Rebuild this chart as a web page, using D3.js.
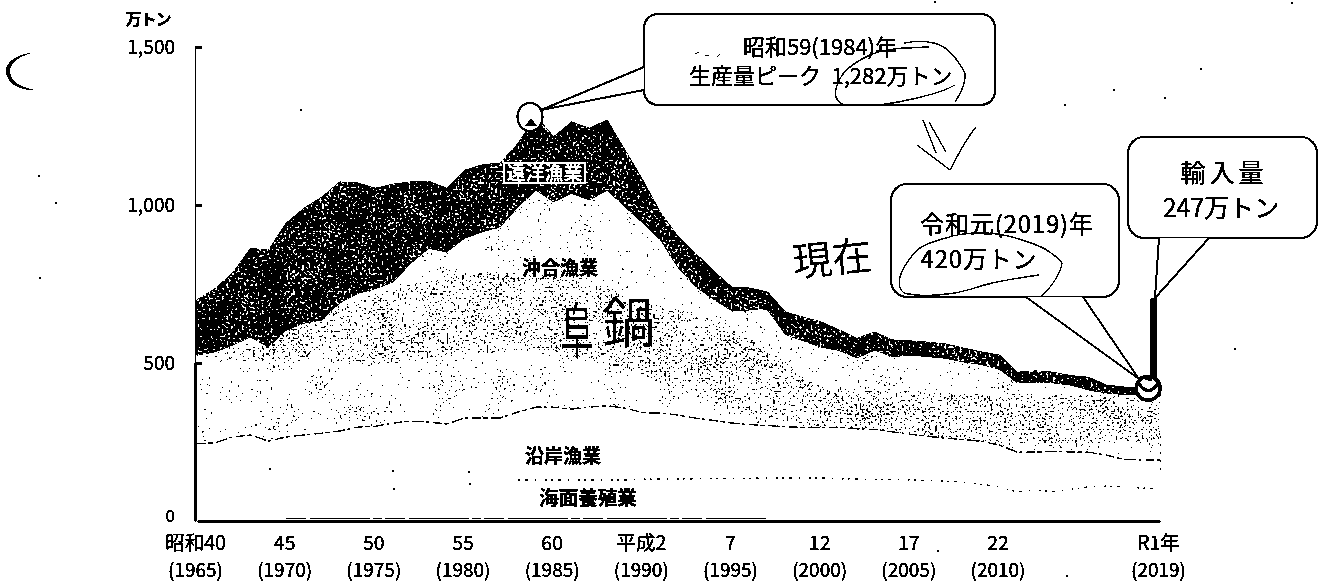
<!DOCTYPE html>
<html>
<head>
<meta charset="utf-8">
<style>
html,body{margin:0;padding:0;background:#fff;overflow:hidden}
text{font-family:"Noto Sans CJK JP","Noto Sans",sans-serif;fill:#000;stroke:#000;stroke-width:.4}
</style>
<script src="https://cdn.jsdelivr.net/npm/d3@7"></script>
</head>
<body>
<svg id="chart" width="1319" height="585"></svg>
<script>
// values, 万トン, one per year 1965-2019
var years = d3.range(1965, 2020);
var totalTop = [700,735,785,863,857, 943,990,1025,1073,1070, 1053,1066,1073,1075,1053,
    1110,1127,1133,1195,1282, 1216,1263,1243,1269,1174, 1079,975,899,845,790,
    740,737,725,661,645, 630,605,578,598,573, 570,566,560,547,535,
    525,471,475,471,460, 455,430,424,420,420];
var offshoreTop = [525,535,557,582,551, 604,626,636,690,720, 735,757,816,863,851,
    895,915,931,994,1047, 1010,1037,1016,1047,994, 943,889,800,740,700,
    665,668,668,590,570, 550,540,516,541,520, 525,520,515,503,495,
    480,437,437,437,430, 415,405,400,400,395];
var coastalTop = [244,247,266,272,253, 266,272,278,285,297, 300,310,316,313,307,
    326,326,326,345,360, 360,354,360,365,357, 343,342,335,325,318,
    310,305,302,298,296, 296,296,292,290,282, 275,268,262,258,252,
    240,218,218,221,218, 218,208,195,193,193];
// 海面養殖業 only shows from 1983 on
var aquaYears = d3.range(1983, 2020);
var aquaTop = [130,130,130,130,130,130,130, 132,133,133,134,135,
    135,135,136,136,136, 136,134,133,132,131, 130,128,126,123,116,
    108,92,98,93,100, 108,110,108,104,101];
// where the scan stipple gets thick inside 沖合漁業
var bandYears = [1965,1970,1975,1980,1985,1990,1995,2000,2005,2010,2015,2019];
var bandTop = [520,600,720,790,780,700,620,420,410,400,400,395];
var bandBottom = [505,510,490,530,540,460,350,290,275,240,235,250];

var yTicks = [0, 500, 1000, 1500];
var xTickYears = [1965,1970,1975,1980,1985,1990,1995,2000,2005,2010,2019];
var xTickTop = ["昭和40","45","50","55","60","平成2","7","12","17","22","R1年"];
var xTickBottom = ["(1965)","(1970)","(1975)","(1980)","(1985)","(1990)","(1995)","(2000)","(2005)","(2010)","(2019)"];
var scanDots = [[300,109],[38,175],[55,202],[39,277],[1200,68],[1113,89],[1164,97],[1064,104],
    [934,1],[1291,2],[1234,348],[937,550],[1066,575],[269,468],[392,470],[393,488],[468,471],[469,483]];

var svg = d3.select("#chart");
var defs = svg.append("defs");

var x = d3.scaleLinear().domain([1965, 2019]).range([197, 1160]);
var y = d3.scaleLinear().domain([0, 1500]).range([521, 47]);

// noise thresholded to single pixels, with a little slow noise so the grain is uneven
function speckFilter(id, seed, cut, white) {
    var c = white ? 1 : 0;
    var toAlpha = "0 0 0 0 0  0 0 0 0 0  0 0 0 0 0  1 0 0 0 0";
    var f = defs.append("filter").attr("id", id)
        .attr("filterUnits", "userSpaceOnUse")
        .attr("x", 0).attr("y", 0).attr("width", 1319).attr("height", 585)
        .attr("color-interpolation-filters", "sRGB");
    f.append("feTurbulence").attr("type", "fractalNoise")
        .attr("baseFrequency", 0.45).attr("numOctaves", 1).attr("seed", seed).attr("result", "fine");
    f.append("feColorMatrix").attr("in", "fine").attr("type", "matrix").attr("values", toAlpha).attr("result", "a");
    f.append("feTurbulence").attr("type", "fractalNoise")
        .attr("baseFrequency", 0.035).attr("numOctaves", 2).attr("seed", seed + 20).attr("result", "slow");
    f.append("feColorMatrix").attr("in", "slow").attr("type", "matrix").attr("values", toAlpha).attr("result", "b");
    f.append("feComposite").attr("in", "a").attr("in2", "b").attr("operator", "arithmetic")
        .attr("k1", 0).attr("k2", 0.8).attr("k3", 0.2).attr("k4", 0).attr("result", "sum");
    f.append("feColorMatrix").attr("in", "sum").attr("type", "matrix")
        .attr("values", "0 0 0 0 " + c + "  0 0 0 0 " + c + "  0 0 0 0 " + c + "  0 0 0 60 " + (-60 * cut));
}
speckFilter("whiteSpecks", 3, 0.6, true);
speckFilter("blackSparse", 7, 0.665, false);
speckFilter("blackDense", 11, 0.61, false);

var bilevel = defs.append("filter").attr("id", "bilevel")
    .attr("filterUnits", "userSpaceOnUse")
    .attr("x", 0).attr("y", 0).attr("width", 1319).attr("height", 585)
    .attr("color-interpolation-filters", "sRGB");
var ct = bilevel.append("feComponentTransfer");
["feFuncR", "feFuncG", "feFuncB"].forEach(function (n) {
    ct.append(n).attr("type", "discrete").attr("tableValues", "0 1");
});
var blur = defs.append("filter").attr("id", "soft");
blur.append("feGaussianBlur").attr("stdDeviation", 7);

var areaBetween = function (lo, hi) {
    return d3.area()
        .x(function (d, i) { return x(years[i]); })
        .y0(function (d, i) { return y(lo[i]); })
        .y1(function (d, i) { return y(hi[i]); })(years);
};

defs.append("clipPath").attr("id", "clipDistant").append("path").attr("d", areaBetween(offshoreTop, totalTop));
defs.append("clipPath").attr("id", "clipOffshore").append("path").attr("d", areaBetween(coastalTop, offshoreTop));

var bandMask = defs.append("mask").attr("id", "bandMask")
    .attr("maskUnits", "userSpaceOnUse").attr("x", 0).attr("y", 0).attr("width", 1319).attr("height", 585);
bandMask.append("path").attr("fill", "#fff").attr("filter", "url(#soft)")
    .attr("d", d3.area()
        .x(function (d) { return x(d); })
        .y0(function (d, i) { return y(bandBottom[i]); })
        .y1(function (d, i) { return y(bandTop[i]); })(bandYears));

var page = svg.append("g").attr("filter", "url(#bilevel)");
page.append("rect").attr("width", 1319).attr("height", 585).attr("fill", "#fff");

// 遠洋漁業 band, black with white grain
page.append("path").attr("d", areaBetween(offshoreTop, totalTop)).attr("fill", "#000")
    .attr("stroke", "#000").attr("stroke-width", 1);
var plotRect = function (g, filter) {
    return g.append("rect").attr("x", 190).attr("y", 40).attr("width", 980).attr("height", 480).attr("filter", filter);
};
plotRect(page.append("g").attr("clip-path", "url(#clipDistant)"), "url(#whiteSpecks)");

// 沖合漁業 grain
var off = page.append("g").attr("clip-path", "url(#clipOffshore)");
plotRect(off, "url(#blackSparse)");
plotRect(off.append("g").attr("mask", "url(#bandMask)"), "url(#blackDense)");

var line = d3.line().x(function (d, i) { return x(years[i]); }).y(function (d) { return y(d); });
page.append("path").attr("d", line(coastalTop)).attr("fill", "none").attr("stroke", "#000")
    .attr("stroke-width", 1.4).attr("stroke-dasharray", "9 2 5 3 12 2 3 4");
var aquaLine = d3.line().x(function (d, i) { return x(aquaYears[i]); }).y(function (d) { return y(d); });
page.append("path").attr("d", aquaLine(aquaTop)).attr("fill", "none").attr("stroke", "#000")
    .attr("stroke-width", 1.4).attr("stroke-dasharray", "2 5 3 7 1 9 2 4");

// right edge of the area
page.append("line").attr("x1", x(2019)).attr("x2", x(2019)).attr("y1", y(395)).attr("y2", y(270))
    .attr("stroke", "#333").attr("stroke-width", 1);
page.append("line").attr("x1", x(2019)).attr("x2", x(2019)).attr("y1", y(270)).attr("y2", y(160))
    .attr("stroke", "#000").attr("stroke-width", 1).attr("stroke-dasharray", "3 5");

// axes
var yAxis = d3.axisLeft(y).tickValues(yTicks).tickFormat(d3.format(",")).tickSize(0).tickPadding(20);
var gy = page.append("g").attr("transform", "translate(195,0)").call(yAxis);
gy.select(".domain").attr("stroke", "#000").attr("stroke-width", 1.6);
gy.selectAll("text").attr("font-size", 19).attr("dy", "0.34em").style("font-family", "Noto Sans CJK JP");
gy.selectAll(".tick").filter(function (d) { return d === 0; }).select("text").attr("dy", "0.05em").attr("font-size", 17);
gy.selectAll(".tick").filter(function (d) { return d > 0; }).append("line")
    .attr("x1", 0).attr("x2", 7).attr("stroke", "#000").attr("stroke-width", 2.4);
page.append("line").attr("x1", 195).attr("x2", 195).attr("y1", y(500)).attr("y2", 521)
    .attr("stroke", "#000").attr("stroke-width", 2.6);

var xAxis = d3.axisBottom(x).tickValues(xTickYears).tickSize(0).tickPadding(0)
    .tickFormat(function (d) { return xTickTop[xTickYears.indexOf(d)]; });
var gx = page.append("g").attr("transform", "translate(0,521)").call(xAxis);
gx.select(".domain").attr("stroke", "#000").attr("stroke-width", 2.6);
gx.selectAll(".tick text").attr("y", 22).attr("dy", "0.34em").attr("x", -2).attr("font-size", 19.5);
gx.selectAll(".tick").append("text")
    .attr("y", 50).attr("dy", "0.34em").attr("x", -2).attr("font-size", 19).attr("fill", "#000")
    .attr("text-anchor", "middle")
    .text(function (d) { return xTickBottom[xTickYears.indexOf(d)]; });
// thin double line just above the base
page.append("line").attr("x1", x(1970)).attr("x2", x(1997)).attr("y1", y(9)).attr("y2", y(9))
    .attr("stroke", "#000").attr("stroke-width", 1).attr("stroke-dasharray", "20 4 60 3 9 3");

page.append("text").attr("x", 148).attr("y", 20).attr("text-anchor", "middle").attr("dy", "0.34em")
    .attr("font-size", 16).attr("font-weight", 700).attr("letter-spacing", -1).text("万トン");

// area labels
page.append("rect").attr("x", 504).attr("y", 163).attr("width", 81).attr("height", 20)
    .attr("fill", "#000").attr("stroke", "#fff").attr("stroke-width", 1.6);
function label(t, cx, cy, size, weight, fill) {
    return page.append("text").attr("x", cx).attr("y", cy).attr("dy", "0.35em").attr("text-anchor", "middle")
        .attr("font-size", size).attr("font-weight", weight || 400).style("fill", fill || "#000").text(t);
}
label("遠洋漁業", 544.5, 173, 19, 700, "#fff").style("stroke", "none");
label("沖合漁業", 560, 268, 19, 700);
label("沿岸漁業", 563, 456, 19, 700);
label("海面養殖業", 588, 498, 19.5, 700);

// pen notes on the copy
function pen(d, w) {
    return page.append("path").attr("d", d).attr("fill", "none").attr("stroke", "#000")
        .attr("stroke-width", w || 1.4).attr("stroke-linecap", "round").attr("stroke-linejoin", "round");
}
label("阜", 577, 332, 38).attr("transform", "translate(577,332) scale(.9,1.6) translate(-577,-332)").style("stroke", "none");
label("鍋", 629, 324, 54).style("stroke", "none");
label("現在", 832, 259, 40).attr("transform", "rotate(-6 832 259)").style("stroke", "none");

// callouts
function callout(bx, by, bw, bh, r, tail) {
    page.append("rect").attr("x", bx).attr("y", by).attr("width", bw).attr("height", bh).attr("rx", r)
        .attr("fill", "#fff").attr("stroke", "#000").attr("stroke-width", 2.2);
    page.append("path").attr("d", "M" + tail.join("L")).attr("fill", "#fff").attr("stroke", "none");
    pen("M" + tail.join("L"), 2);
}
callout(644, 14, 351, 91, 14, [[644, 67], [541, 110], [644, 90]]);
callout(891, 184, 228, 113, 16, [[1026, 297], [1139, 379], [1083, 297]]);
callout(1128, 137, 189, 101, 16, [[1159, 238], [1155, 298], [1209, 238]]);
page.append("rect").attr("x", x(2019) - 9.5).attr("y", y(705)).attr("width", 6.5).attr("height", y(425) - y(705)).attr("fill", "#000");

// markers for 1984 and 2019
page.append("ellipse").attr("cx", 530).attr("cy", 117).attr("rx", 12.5).attr("ry", 14)
    .attr("fill", "#fff").attr("stroke", "#000").attr("stroke-width", 2.2);
page.append("path").attr("d", "M525 126L531 118L537 126Z").attr("fill", "#000");
page.append("circle").attr("cx", x(2018) + 6).attr("cy", y(420)).attr("r", 12)
    .attr("fill", "#fff").attr("stroke", "#000").attr("stroke-width", 3.4);
pen("M1139 384Q1148 397 1158 384", 3.5);
pen("M1141 377L1151 380M1152 376L1156 381", 2.6);

label("昭和59(1984)年", 820, 47, 22);
label("生産量ピーク", 755, 76, 22);
label("1,282万トン", 892, 76, 22);
label("令和元(2019)年", 1007, 225, 24).attr("letter-spacing", .8);
label("420万トン", 979, 260, 24).attr("letter-spacing", .8);
label("輸入量", 1224, 173, 25).attr("letter-spacing", 4);
label("247万トン", 1221, 208, 25);

pen("M904 43C915 41 925 41 934 43C948 46 958 60 965 73C966 84 960 94 955 102");
pen("M929 47C905 48 885 48 870 55C855 62 846 68 841 77C836 86 834 92 836 97C838 103 842 105 850 105C860 106 870 106 879 105C895 103 905 101 917 98C930 95 945 91 955 85");
pen("M923 120L936 153");
pen("M929 122L946 152");
pen("M976 127C965 140 958 155 950 170L917 145");
pen("M1022 240C1000 232 970 230 946 238C930 242 922 246 917 250C908 260 902 268 900 277C898 285 900 290 904 293C915 296 935 296 955 293C970 290 980 286 992 283C1010 279 1025 277 1039 275");
pen("M1022 240C1035 244 1045 248 1051 253C1058 258 1061 260 1062 263C1060 275 1050 288 1041 297");
pen("M695 54L699 52M705 56L709 55M717 57L720 54", 1);

// the bracket at the far left and scan dirt
page.append("path").attr("d", "M36 52C14 54 5 64 6 72C7 82 17 91 36 90C22 88 11 82 10 72C10 63 20 55 36 52Z").attr("fill", "#000");
page.selectAll(".dirt").data(scanDots).enter().append("rect").attr("class", "dirt")
    .attr("x", function (d) { return d[0]; }).attr("y", function (d) { return d[1]; })
    .attr("width", 2).attr("height", 2).attr("fill", "#000");
</script>
</body>
</html>
